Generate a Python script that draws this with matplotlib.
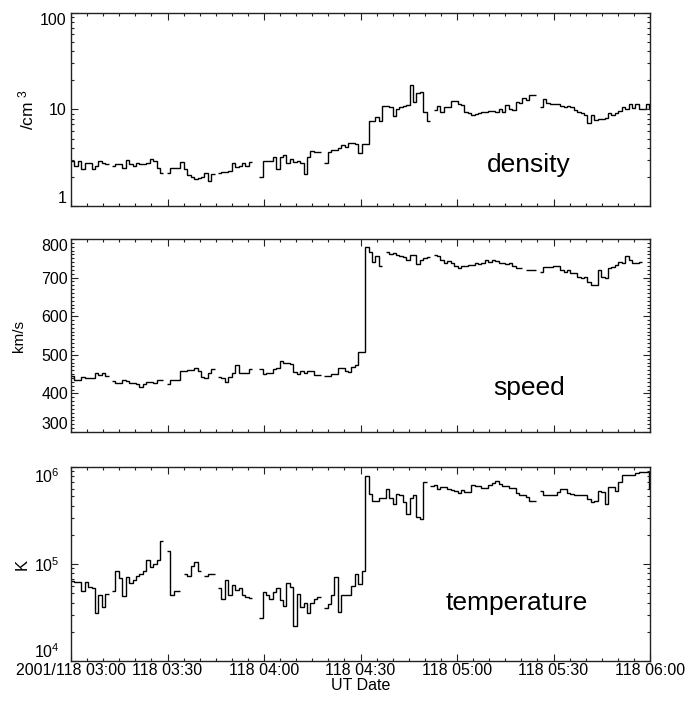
import numpy as np
import matplotlib
matplotlib.use("Agg")
import matplotlib.pyplot as plt
from matplotlib.ticker import MultipleLocator, FixedLocator, LogLocator, NullFormatter, FixedFormatter

plt.rcParams['font.family'] = ['Liberation Sans', 'DejaVu Sans']
plt.rcParams['mathtext.fontset'] = 'custom'
plt.rcParams['mathtext.rm'] = 'Liberation Sans'
plt.rcParams['mathtext.default'] = 'regular'

nan = np.nan

# ~64 s samples starting 2001/118 03:00 UT
cadence_s = 63.8

density = [
    2.9, 2.6, 2.9, 2.4, 2.8, 2.8, 2.4, 2.6, 2.95, 2.8,
    2.7, nan, 2.6, 2.7, 2.7, 2.5, 3.0, 2.75, 2.6, 2.8,
    2.75, 2.75, 2.8, 3.1, 2.9, 2.5, 2.2, nan, 2.2, 2.45,
    2.45, 2.5, 2.85, 2.4, 2.1, 2.0, 1.9, 1.93, 1.98, 2.2,
    1.8, 2.15, nan, 2.2, 2.25, 2.27, 2.3, 2.8, 2.55, 2.6,
    2.8, 2.6, 2.85, nan, nan, 2.0, 2.95, 2.9, 2.9, 3.2,
    2.4, 3.25, 3.4, 2.8, 3.05, 2.85, 2.9, 2.8, 2.15, 3.25,
    3.7, 3.6, 3.6, nan, 2.8, 3.65, 3.8, 3.85, 3.95, 4.3,
    4.1, 4.5, 4.5, 4.4, 3.5, 4.4, 4.4, 7.6, 7.6, 8.3,
    7.6, 10.9, 10.9, 10.7, 8.5, 10.2, 10.7, 11.0, 11.2, 17.9,
    12.0, 14.7, 15.1, 9.5, 7.6, nan, 9.9, 11.0, 9.4, 10.7,
    10.7, 12.3, 12.3, 11.5, 11.1, 9.5, 9.3, 8.8, 8.9, 9.1,
    9.5, 9.4, 9.6, 9.7, 9.5, 10.0, 9.5, 11.1, 10.2, 9.9,
    12.0, 11.8, 13.3, 12.5, 14.2, 14.2, nan, 10.7, 13.0, 11.8,
    11.3, 11.3, 11.5, 10.9, 10.7, 11.0, 10.5, 9.9, 9.4, 9.1,
    8.8, 7.2, 8.8, 7.8, 8.0, 8.0, 8.2, 9.1, 8.8, 9.1,
    9.7, 10.7, 10.0, 11.4, 10.3, 11.4, 10.0, 10.0, 11.4, 10.0,
]

speed = [
    445, 436, 436, 442, 441, 441, 441, 454, 448, 452,
    446, nan, 433, 426, 426, 436, 433, 426, 426, 424,
    417, 424, 429, 429, 426, 435, 436, nan, 424, 435,
    435, 435, 459, 459, 461, 461, 465, 457, 443, 439,
    452, 462, nan, 443, 441, 429, 443, 452, 474, 454,
    452, 452, 462, nan, nan, 462, 450, 452, 452, 462,
    467, 484, 479, 479, 476, 455, 450, 457, 452, 459,
    457, 448, 448, nan, 445, 445, 450, 450, 465, 465,
    457, 455, 469, 473, 506, 506, 780, 767, 740, 756,
    731, nan, 767, 761, 764, 759, 755, 753, 746, 759,
    759, 736, 746, 751, 754, nan, 758, 757, 746, 739,
    742, 738, 729, 724, 729, 731, 733, 733, 737, 736,
    737, 746, 741, 746, 742, 738, 739, 736, 739, 729,
    724, 724, nan, 720, 720, 720, nan, 715, 728, 728,
    728, 731, 731, 720, 715, 720, 713, 711, 702, 700,
    702, 689, 681, 681, 720, 702, 698, 724, 728, 733,
    741, 739, 756, 746, 739, 739, 741, nan, nan, nan,
]

temperature = [
    6.7e4, 6.5e4, 6.5e4, 5.3e4, 6.6e4, 5.8e4, 5.7e4, 3.1e4, 4.8e4, 3.6e4,
    4.9e4, nan, 5.3e4, 8.4e4, 7.2e4, 4.7e4, 7.3e4, 6.4e4, 6.9e4, 7.6e4,
    7.8e4, 8.4e4, 1.09e5, 9.3e4, 1.0e5, 1.11e5, 1.73e5, nan, 1.35e5, 4.8e4,
    5.3e4, 5.3e4, nan, 7.8e4, 7.5e4, 9.5e4, 1.05e5, 8.4e4, nan, 7.6e4,
    7.9e4, 7.9e4, nan, 5.7e4, 4.4e4, 6.9e4, 4.8e4, 6.1e4, 5.4e4, 5.7e4,
    4.8e4, 4.6e4, 4.5e4, nan, nan, 2.8e4, 5.2e4, 4.8e4, 4.4e4, 5.1e4,
    5.7e4, 4.3e4, 3.7e4, 6.4e4, 5.8e4, 2.3e4, 4.9e4, 3.6e4, 4.0e4, 3.1e4,
    4.0e4, 4.4e4, 4.6e4, nan, 3.5e4, 3.9e4, 4.8e4, 7.3e4, 3.2e4, 4.8e4,
    4.8e4, 4.8e4, 6.0e4, 7.8e4, 6.2e4, 8.4e4, 8.1e5, 5.3e5, 4.5e5, 4.5e5,
    4.75e5, 4.75e5, 5.9e5, 4.75e5, 4.2e5, 5.3e5, 5.1e5, 4.4e5, 3.3e5, 4.75e5,
    5.2e5, 3.05e5, 2.9e5, 7.0e5, nan, 6.4e5, 6.6e5, 6.0e5, 6.2e5, 6.2e5,
    6.0e5, 5.75e5, 5.6e5, 5.4e5, 5.75e5, 5.5e5, 5.5e5, 6.5e5, 6.4e5, 6.4e5,
    6.1e5, 6.1e5, 6.6e5, 6.9e5, 7.1e5, 6.7e5, 6.4e5, 6.4e5, 6.1e5, 6.1e5,
    5.4e5, 5.2e5, 5.2e5, 4.9e5, 4.5e5, 4.5e5, nan, 5.6e5, 5.2e5, 5.2e5,
    5.2e5, 5.2e5, 5.5e5, 6.0e5, 6.0e5, 5.4e5, 5.3e5, 5.2e5, 5.2e5, 5.1e5,
    5.2e5, 4.65e5, 4.4e5, 4.5e5, 5.6e5, 5.5e5, 4.2e5, 6.2e5, 6.2e5, 5.6e5,
    7.0e5, 8.2e5, 8.3e5, 8.2e5, 8.2e5, 8.7e5, 8.9e5, 8.9e5, 8.9e5, 6.0e5,
]

tick_seconds = [0, 1800, 3600, 5400, 7200, 9000, 10800]
tick_labels = ["2001/118 03:00", "118 03:30", "118 04:00", "118 04:30",
               "118 05:00", "118 05:30", "118 06:00"]
speed_ticks = [300, 400, 500, 600, 700, 800]

n = len(density)
edges = np.arange(n + 1) * cadence_s

fig = plt.figure(figsize=(6.91, 7.02), dpi=100)
left, width = 71 / 691, 579 / 691
ax1 = fig.add_axes([left, 1 - 206 / 702, width, 193 / 702])
ax2 = fig.add_axes([left, 1 - 432 / 702, width, 193 / 702])
ax3 = fig.add_axes([left, 1 - 661 / 702, width, 194 / 702])


def style_axis(ax, show_labels):
    ax.set_xlim(0, 10800)
    ax.xaxis.set_major_locator(FixedLocator(tick_seconds))
    ax.xaxis.set_minor_locator(MultipleLocator(300))
    if show_labels:
        ax.xaxis.set_major_formatter(FixedFormatter(tick_labels))
    else:
        ax.xaxis.set_major_formatter(NullFormatter())
    ax.tick_params(which='both', direction='in', top=True, right=True,
                   width=0.8, colors='#222222', labelcolor='black', labelsize=11.5)
    ax.tick_params(which='major', length=5)
    ax.tick_params(which='minor', length=2.5)
    ax.tick_params(axis='x', pad=1.5)
    for s in ax.spines.values():
        s.set_linewidth(1.0)
        s.set_color('#222222')


# density
ax1.stairs(np.array(density, float), edges, baseline=None, color='black', lw=1.0)
ax1.set_yscale('log')
ax1.set_ylim(1, 100)
ax1.yaxis.set_major_locator(FixedLocator([1, 10, 100]))
ax1.yaxis.set_major_formatter(FixedFormatter(['1', '10', '100']))
ax1.yaxis.set_minor_locator(LogLocator(base=10, subs=np.arange(2, 10)))
ax1.yaxis.set_minor_formatter(NullFormatter())
style_axis(ax1, False)
ax1.tick_params(axis='y', pad=3)
ax1.set_ylabel('/cm $^{3}$', fontsize=12.5, rotation=90)
ax1.yaxis.set_label_coords(-0.059, 0.5)
ax1.text(0.79, 0.21, 'density', transform=ax1.transAxes, fontsize=19,
         ha='center', va='center')

# speed
ax2.stairs(np.array(speed, float), edges, baseline=None, color='black', lw=1.0)
ax2.set_ylim(300, 800)
ax2.yaxis.set_major_locator(FixedLocator(speed_ticks))
ax2.yaxis.set_minor_locator(MultipleLocator(10))
style_axis(ax2, False)
ax2.tick_params(axis='y', pad=2)
ax2.set_ylabel('km/s', fontsize=11)
ax2.yaxis.set_label_coords(-0.077, 0.5)
ax2.text(0.792, 0.228, 'speed', transform=ax2.transAxes, fontsize=19,
         ha='center', va='center')

# temperature
ax3.stairs(np.array(temperature, float), edges, baseline=None, color='black', lw=1.0)
ax3.set_yscale('log')
ax3.set_ylim(1e4, 1e6)
ax3.yaxis.set_major_locator(FixedLocator([1e4, 1e5, 1e6]))
ax3.yaxis.set_major_formatter(FixedFormatter(['10$^{4}$', '10$^{5}$', '10$^{6}$']))
ax3.yaxis.set_minor_locator(LogLocator(base=10, subs=np.arange(2, 10)))
ax3.yaxis.set_minor_formatter(NullFormatter())
style_axis(ax3, True)
ax3.tick_params(axis='y', pad=8)
ax3.set_ylabel('K', fontsize=12)
ax3.yaxis.set_label_coords(-0.072, 0.5)
ax3.set_xlabel('UT Date', fontsize=11.5, labelpad=0)
ax3.text(0.77, 0.30, 'temperature', transform=ax3.transAxes, fontsize=19,
         ha='center', va='center')

# keep the end labels of each y axis inside the panel, as in the original
fig.canvas.draw()
for ax in (ax1, ax2, ax3):
    labels = ax.yaxis.get_majorticklabels()
    labels[0].set_va('bottom')
    labels[-1].set_va('top')

fig.savefig('out.png', dpi=100)
